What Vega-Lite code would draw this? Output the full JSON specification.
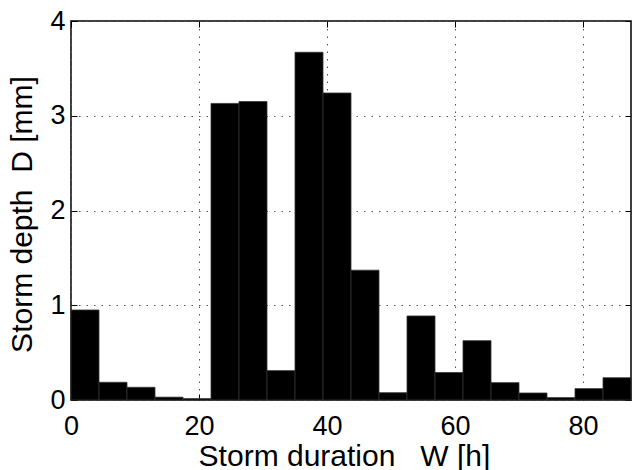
{
  "$schema": "https://vega.github.io/schema/vega-lite/v6.json",
  "width": 560,
  "height": 379,
  "autosize": {"type": "none"},
  "padding": {"left": 71, "top": 21, "right": 1, "bottom": 70},
  "background": "white",
  "config": {
    "font": "Liberation Sans",
    "view": {"stroke": "black", "strokeWidth": 1.5},
    "axis": {
      "labelFont": "Liberation Sans",
      "titleFont": "Liberation Sans",
      "labelFontSize": 27,
      "titleFontSize": 30,
      "labelColor": "black",
      "titleColor": "black",
      "titleFontWeight": "normal",
      "labelFlush": false,
      "labelOverlap": false,
      "domain": false,
      "tickColor": "black",
      "gridColor": "#555555",
      "gridDash": [1.5, 6],
      "gridWidth": 1,
      "gridOpacity": 1
    }
  },
  "data": {
    "values": [
      {"start": 0, "end": 4.375, "depth": 0.95},
      {"start": 4.375, "end": 8.75, "depth": 0.187},
      {"start": 8.75, "end": 13.125, "depth": 0.134},
      {"start": 13.125, "end": 17.5, "depth": 0.03},
      {"start": 17.5, "end": 21.875, "depth": 0.015},
      {"start": 21.875, "end": 26.25, "depth": 3.13},
      {"start": 26.25, "end": 30.625, "depth": 3.15},
      {"start": 30.625, "end": 35, "depth": 0.31},
      {"start": 35, "end": 39.375, "depth": 3.67},
      {"start": 39.375, "end": 43.75, "depth": 3.24},
      {"start": 43.75, "end": 48.125, "depth": 1.37},
      {"start": 48.125, "end": 52.5, "depth": 0.077},
      {"start": 52.5, "end": 56.875, "depth": 0.887},
      {"start": 56.875, "end": 61.25, "depth": 0.29},
      {"start": 61.25, "end": 65.625, "depth": 0.626},
      {"start": 65.625, "end": 70, "depth": 0.183},
      {"start": 70, "end": 74.375, "depth": 0.074},
      {"start": 74.375, "end": 78.75, "depth": 0.025},
      {"start": 78.75, "end": 83.125, "depth": 0.12},
      {"start": 83.125, "end": 87.5, "depth": 0.235}
    ]
  },
  "layer": [
    {
      "mark": {"type": "bar", "fill": "black", "stroke": "#333333", "strokeWidth": 0.8},
      "encoding": {
        "x": {
          "field": "start",
          "type": "quantitative",
          "scale": {"domain": [0, 87.5], "nice": false, "zero": false},
          "axis": {
            "orient": "bottom",
            "values": [0, 20, 40, 60, 80],
            "title": "Storm duration\u00a0\u00a0\u00a0W [h]",
            "titleX": 273,
            "tickSize": -6,
            "labelPadding": 19,
            "titlePadding": 2,
            "grid": true
          }
        },
        "x2": {"field": "end"},
        "y": {
          "field": "depth",
          "type": "quantitative",
          "scale": {"domain": [0, 4], "nice": false},
          "axis": {
            "orient": "left",
            "values": [0, 1, 2, 3, 4],
            "title": "Storm depth\u00a0\u00a0D [mm]",
            "titleY": 193,
            "tickSize": -6,
            "labelPadding": 12,
            "titlePadding": 12,
            "grid": true
          }
        },
        "y2": {"datum": 0}
      }
    },
    {
      "mark": {"type": "bar", "opacity": 0},
      "encoding": {
        "x": {
          "field": "start",
          "type": "quantitative",
          "axis": {"orient": "top", "values": [0, 20, 40, 60, 80], "labels": false, "title": null, "tickSize": -6, "grid": false}
        },
        "x2": {"field": "end"},
        "y": {
          "field": "depth",
          "type": "quantitative",
          "axis": {"orient": "right", "values": [0, 1, 2, 3, 4], "labels": false, "title": null, "tickSize": -6, "grid": false}
        },
        "y2": {"datum": 0}
      }
    }
  ],
  "resolve": {"axis": {"x": "independent", "y": "independent"}}
}
